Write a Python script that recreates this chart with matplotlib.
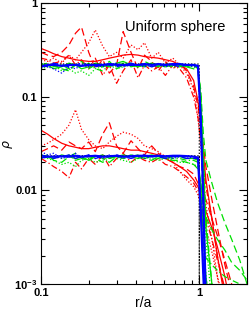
import numpy as np
import matplotlib
matplotlib.use('Agg')
import matplotlib.pyplot as plt
from matplotlib.ticker import FixedLocator, FixedFormatter, LogLocator, NullFormatter

# radial grid shared by all profiles
r = [0.100, 0.110, 0.120, 0.135, 0.150, 0.165, 0.180, 0.200, 0.220, 0.245, 0.270,
     0.300, 0.330, 0.370, 0.410, 0.450, 0.500, 0.550, 0.610, 0.680, 0.750, 0.830,
     0.920, 0.980, 1.020, 1.060, 1.100, 1.200, 1.300, 1.450, 1.600, 1.800, 2.000]

# analytic uniform sphere (black dotted)
r_exact = [0.1, 0.999, 1.0]
rho_exact_hi = [0.225, 0.225, 1e-5]
rho_exact_lo = [0.0235, 0.0235, 1e-5]

# red profiles, upper set
red_hi_solid = [0.33, 0.31, 0.29, 0.27, 0.26, 0.25, 0.245, 0.24, 0.24, 0.25, 0.26, 0.27, 0.28, 0.285, 0.28, 0.27,
                0.265, 0.26, 0.25, 0.24, 0.22, 0.20, 0.15, 0.09, 0.05, 0.025, 0.013, 0.005, 0.002, 7e-4, 3e-4, 1e-4, 5e-5]
red_hi_dash = [0.30, 0.28, 0.27, 0.30, 0.36, 0.48, 0.56, 0.30, 0.20, 0.25, 0.18, 0.22, 0.50, 0.30, 0.20, 0.28,
               0.24, 0.19, 0.24, 0.20, 0.23, 0.19, 0.13, 0.08, 0.05, 0.03, 0.018, 0.008, 0.004, 0.0016, 8e-4, 3e-4, 1e-4]
red_hi_dot = [0.25, 0.24, 0.26, 0.23, 0.28, 0.25, 0.30, 0.38, 0.52, 0.35, 0.27, 0.30, 0.26, 0.36, 0.32, 0.38,
              0.26, 0.30, 0.23, 0.26, 0.22, 0.18, 0.12, 0.06, 0.03, 0.014, 0.007, 0.003, 0.0012, 4e-4, 1e-4, 5e-5, 2e-5]
red_hi_dashdot = [0.26, 0.25, 0.23, 0.24, 0.28, 0.22, 0.25, 0.20, 0.26, 0.17, 0.22, 0.14, 0.19, 0.25, 0.16, 0.22,
                  0.19, 0.21, 0.17, 0.22, 0.20, 0.16, 0.10, 0.06, 0.035, 0.02, 0.011, 0.005, 0.002, 8e-4, 3e-4, 1e-4, 5e-5]

# red profiles, lower set
red_lo_solid = [0.044, 0.040, 0.036, 0.032, 0.030, 0.029, 0.028, 0.028, 0.029, 0.030, 0.030, 0.029, 0.028, 0.027,
                0.027, 0.026, 0.025, 0.024, 0.022, 0.020, 0.018, 0.016, 0.013, 0.011, 0.009, 0.0075, 0.006, 0.004,
                0.0025, 0.0012, 5e-4, 2e-4, 1e-4]
red_lo_dash = [0.026, 0.028, 0.030, 0.027, 0.033, 0.030, 0.028, 0.033, 0.026, 0.040, 0.053, 0.030, 0.025, 0.034,
               0.028, 0.024, 0.030, 0.025, 0.022, 0.020, 0.018, 0.017, 0.015, 0.012, 0.010, 0.009, 0.008, 0.005,
               0.0033, 0.0018, 0.001, 5e-4, 2e-4]
red_lo_dot = [0.030, 0.032, 0.035, 0.040, 0.050, 0.073, 0.045, 0.035, 0.030, 0.028, 0.033, 0.038, 0.042, 0.040,
              0.036, 0.030, 0.028, 0.026, 0.023, 0.020, 0.016, 0.013, 0.011, 0.009, 0.007, 0.005, 0.004, 0.0022,
              0.0012, 6e-4, 3e-4, 1e-4, 5e-5]
red_lo_dashdot = [0.022, 0.020, 0.018, 0.016, 0.0137, 0.020, 0.017, 0.022, 0.019, 0.024, 0.018, 0.022, 0.025, 0.020,
                  0.023, 0.021, 0.020, 0.022, 0.019, 0.018, 0.016, 0.014, 0.012, 0.010, 0.008, 0.0065, 0.005, 0.003,
                  0.0018, 9e-4, 4e-4, 1e-4, 5e-5]

# green profiles, upper set
green_hi_solid = [0.21, 0.22, 0.20, 0.21, 0.23, 0.22, 0.20, 0.21, 0.23, 0.22, 0.21, 0.23, 0.24, 0.22, 0.21, 0.22,
                  0.23, 0.22, 0.21, 0.22, 0.22, 0.21, 0.22, 0.20, 0.10, 0.02, 0.004, 0.001, 3e-4, 1e-4, 5e-5, 2e-5, 1e-5]
green_hi_dash = [0.23, 0.21, 0.22, 0.20, 0.19, 0.22, 0.24, 0.20, 0.22, 0.21, 0.24, 0.20, 0.22, 0.23, 0.21, 0.24,
                 0.22, 0.21, 0.23, 0.21, 0.22, 0.21, 0.20, 0.19, 0.12, 0.04, 0.021, 0.012, 0.0075, 0.0045, 0.003, 0.0018, 0.001]
green_hi_dot = [0.20, 0.21, 0.22, 0.19, 0.20, 0.18, 0.19, 0.17, 0.20, 0.21, 0.22, 0.20, 0.21, 0.22, 0.21, 0.22,
                0.21, 0.22, 0.21, 0.22, 0.22, 0.22, 0.21, 0.20, 0.09, 0.015, 0.003, 6e-4, 2e-4, 1e-4, 5e-5, 2e-5, 1e-5]
green_hi_dashdot = [0.22, 0.23, 0.21, 0.22, 0.20, 0.22, 0.21, 0.23, 0.20, 0.19, 0.22, 0.21, 0.23, 0.21, 0.22, 0.21,
                    0.23, 0.22, 0.22, 0.21, 0.21, 0.22, 0.22, 0.21, 0.11, 0.025, 0.005, 0.001, 3e-4, 1e-4, 5e-5, 2e-5, 1e-5]

# green profiles, lower set
green_lo_solid = [0.024, 0.023, 0.022, 0.024, 0.023, 0.022, 0.023, 0.021, 0.023, 0.024, 0.022, 0.023, 0.024, 0.023,
                  0.022, 0.023, 0.024, 0.023, 0.022, 0.023, 0.023, 0.022, 0.022, 0.021, 0.012, 0.003, 0.0012, 4e-4,
                  1e-4, 5e-5, 2e-5, 1e-5, 1e-5]
green_lo_dash = [0.022, 0.024, 0.021, 0.020, 0.023, 0.025, 0.022, 0.021, 0.024, 0.022, 0.020, 0.023, 0.022, 0.024,
                 0.023, 0.022, 0.021, 0.023, 0.022, 0.021, 0.021, 0.020, 0.019, 0.017, 0.012, 0.008, 0.0052, 0.0038,
                 0.003, 0.0023, 0.0017, 0.0014, 0.0011]
green_lo_dot = [0.023, 0.022, 0.021, 0.019, 0.020, 0.018, 0.021, 0.022, 0.020, 0.021, 0.023, 0.022, 0.021, 0.020,
                0.022, 0.023, 0.022, 0.021, 0.022, 0.021, 0.020, 0.020, 0.019, 0.018, 0.010, 0.004, 0.0012, 4e-4,
                1e-4, 5e-5, 2e-5, 1e-5, 1e-5]
green_lo_dashdot = [0.024, 0.022, 0.023, 0.022, 0.024, 0.021, 0.022, 0.023, 0.022, 0.020, 0.022, 0.024, 0.022, 0.023,
                    0.024, 0.022, 0.023, 0.022, 0.023, 0.022, 0.022, 0.021, 0.021, 0.020, 0.011, 0.004, 0.0019, 0.0016,
                    0.0014, 0.0012, 0.0011, 0.001, 9e-4]

# blue profiles
blue_hi_solid = [0.21, 0.22, 0.22, 0.215, 0.22, 0.22, 0.215, 0.22, 0.22, 0.22, 0.225, 0.22, 0.22, 0.22, 0.22, 0.225,
                 0.22, 0.225, 0.22, 0.225, 0.225, 0.22, 0.22, 0.215, 0.06, 0.008, 6e-4, 1e-4, 1e-5, 1e-5, 1e-5, 1e-5, 1e-5]
blue_hi_dot = [0.23, 0.21, 0.20, 0.18, 0.21, 0.20, 0.22, 0.21, 0.22, 0.21, 0.22, 0.23, 0.21, 0.22, 0.22, 0.21,
               0.22, 0.22, 0.21, 0.22, 0.22, 0.22, 0.21, 0.21, 0.07, 0.01, 8e-4, 1e-4, 1e-5, 1e-5, 1e-5, 1e-5, 1e-5]
blue_hi_dash = [0.22, 0.21, 0.23, 0.22, 0.21, 0.22, 0.23, 0.22, 0.21, 0.22, 0.22, 0.21, 0.22, 0.23, 0.22, 0.22,
                0.21, 0.22, 0.22, 0.22, 0.21, 0.22, 0.22, 0.21, 0.05, 0.005, 5e-4, 1e-4, 1e-5, 1e-5, 1e-5, 1e-5, 1e-5]
blue_lo_solid = [0.0225, 0.023, 0.023, 0.0232, 0.023, 0.0235, 0.023, 0.0232, 0.0235, 0.023, 0.0232, 0.0235, 0.023,
                 0.0232, 0.0235, 0.0235, 0.0233, 0.0235, 0.0232, 0.0235, 0.0235, 0.0233, 0.023, 0.0225, 0.006,
                 0.0012, 3e-4, 1e-5, 1e-5, 1e-5, 1e-5, 1e-5, 1e-5]
blue_lo_dot = [0.026, 0.024, 0.025, 0.022, 0.023, 0.025, 0.022, 0.024, 0.023, 0.022, 0.024, 0.023, 0.022, 0.024,
               0.023, 0.022, 0.023, 0.024, 0.023, 0.022, 0.023, 0.023, 0.022, 0.022, 0.008, 0.0015, 4e-4, 1e-5,
               1e-5, 1e-5, 1e-5, 1e-5, 1e-5]
blue_lo_dash = [0.024, 0.023, 0.022, 0.023, 0.024, 0.022, 0.023, 0.024, 0.022, 0.023, 0.023, 0.024, 0.023, 0.022,
                0.023, 0.024, 0.023, 0.023, 0.022, 0.023, 0.023, 0.022, 0.022, 0.022, 0.007, 0.0013, 3e-4, 1e-5,
                1e-5, 1e-5, 1e-5, 1e-5, 1e-5]

y_ticks = [1e-3, 1e-2, 1e-1, 1]
y_tick_labels = ['$\\mathbf{10^{-3}}$', '0.01', '0.1', '1']
x_ticks = [0.1, 1]
x_tick_labels = ['0.1', '1']

plt.rcParams['font.family'] = ['Liberation Sans', 'DejaVu Sans']
plt.rcParams['mathtext.fontset'] = 'custom'
plt.rcParams['mathtext.rm'] = 'Liberation Sans'
plt.rcParams['mathtext.bf'] = 'Liberation Sans:bold'

fig = plt.figure(figsize=(2.49, 3.12), dpi=100)
ax = fig.add_axes([0.165, 0.0897, 0.827, 0.8993])

DASH = (0, (6, 3))
DOT = (0, (1, 1.5))
DASHDOT = (0, (5, 2, 1, 2))
lw = 0.9

for ys, ls in [(red_hi_solid, '-'), (red_hi_dash, DASH), (red_hi_dot, DOT), (red_hi_dashdot, DASHDOT),
               (red_lo_solid, '-'), (red_lo_dash, DASH), (red_lo_dot, DOT), (red_lo_dashdot, DASHDOT)]:
    ax.plot(r, ys, color='#ff0000', linestyle=ls, lw=lw)

for ys, ls in [(green_hi_solid, '-'), (green_hi_dash, DASH), (green_hi_dot, DOT), (green_hi_dashdot, DASHDOT),
               (green_lo_solid, '-'), (green_lo_dash, DASH), (green_lo_dot, DOT), (green_lo_dashdot, DASHDOT)]:
    ax.plot(r, ys, color='#00e000', linestyle=ls, lw=lw)

ax.plot(r_exact, rho_exact_hi, color='black', linestyle=DOT, lw=lw)
ax.plot(r_exact, rho_exact_lo, color='black', linestyle=DOT, lw=lw)

for ys, ls, w in [(blue_hi_dot, DOT, lw), (blue_hi_dash, DASH, lw), (blue_hi_solid, '-', 1.6),
                  (blue_lo_dot, DOT, lw), (blue_lo_dash, DASH, lw), (blue_lo_solid, '-', 1.6)]:
    ax.plot(r, ys, color='#0000ff', linestyle=ls, lw=w)

ax.set_xscale('log')
ax.set_yscale('log')
ax.set_xlim(0.1, 2.0)
ax.set_ylim(1e-3, 1)

ax.yaxis.set_major_locator(FixedLocator(y_ticks))
ax.yaxis.set_major_formatter(FixedFormatter(y_tick_labels))
ax.xaxis.set_major_locator(FixedLocator(x_ticks))
ax.xaxis.set_major_formatter(FixedFormatter(x_tick_labels))
ax.xaxis.set_minor_locator(LogLocator(base=10, subs=np.arange(2, 10)))
ax.yaxis.set_minor_locator(LogLocator(base=10, subs=np.arange(2, 10)))
ax.xaxis.set_minor_formatter(NullFormatter())
ax.yaxis.set_minor_formatter(NullFormatter())
ax.tick_params(which='both', direction='in', top=True, right=True, labelsize=8, width=0.8)
ax.tick_params(which='major', length=6, pad=3)
ax.tick_params(which='minor', length=3)
for lab in ax.get_xticklabels() + ax.get_yticklabels():
    lab.set_fontweight('bold')
for s in ax.spines.values():
    s.set_linewidth(0.8)

ax.set_xlabel('r/a', fontsize=10)
ax.xaxis.set_label_coords(0.495, -0.043)
ax.set_ylabel(r'$\rho$', fontsize=9)
ax.yaxis.set_label_coords(-0.125, 0.5)
ax.text(0.65, 0.915, 'Uniform sphere', transform=ax.transAxes, fontsize=10.5, ha='center', va='center')

fig.savefig('out.png', dpi=100)
